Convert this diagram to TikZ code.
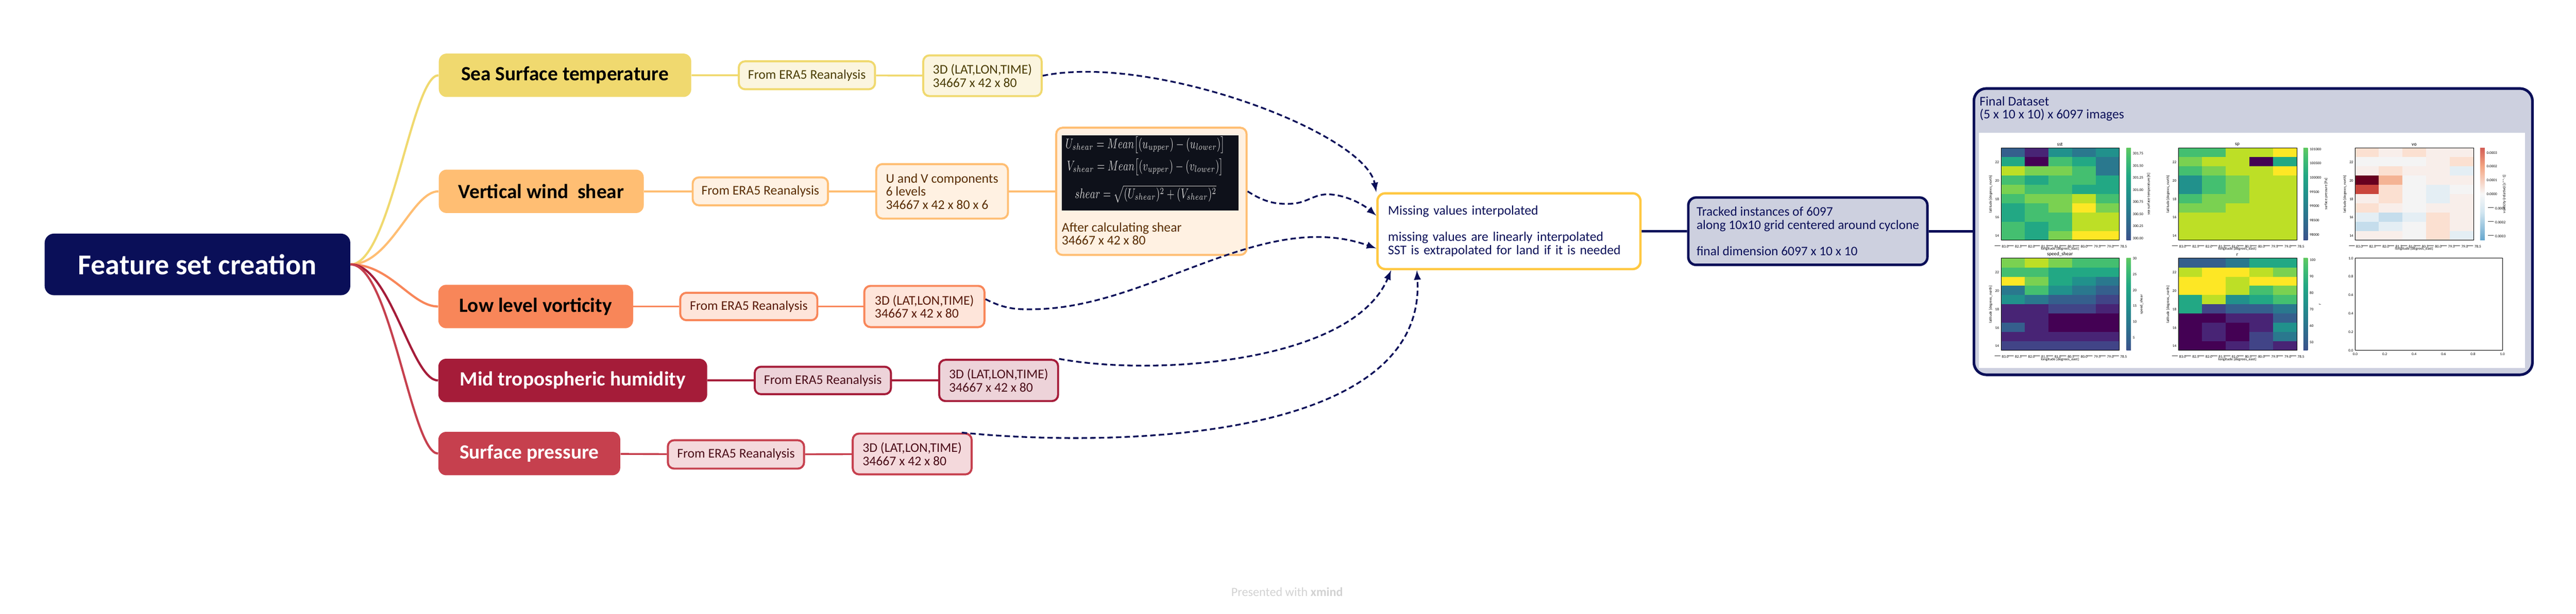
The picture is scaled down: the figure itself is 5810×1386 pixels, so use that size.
\documentclass[tikz,border=0pt]{standalone}
\usepackage{fontspec}
\setmainfont{Carlito}
\usepackage{amsmath}
\usepackage{graphicx}
\usetikzlibrary{calc}

\definecolor{navy}{HTML}{0A0F58}
\definecolor{sstc}{HTML}{F0D96F}
\definecolor{vwsc}{HTML}{FFBE73}
\definecolor{vorc}{HTML}{F88659}
\definecolor{humc}{HTML}{A51C39}
\definecolor{spc}{HTML}{C6404E}
\definecolor{sstl}{HTML}{FBF5DF}
\definecolor{vwsl}{HTML}{FFF1E2}
\definecolor{vorl}{HTML}{FEE5DA}
\definecolor{huml}{HTML}{EDD3D9}
\definecolor{spl}{HTML}{F4D9DC}
\definecolor{ssttx}{HTML}{4A3C00}
\definecolor{vwstx}{HTML}{5A2D00}
\definecolor{vortx}{HTML}{5A1A08}
\definecolor{humtx}{HTML}{4A0C18}
\definecolor{missc}{HTML}{FFC842}
\definecolor{trackf}{HTML}{CDD0DF}
\definecolor{eqbg}{HTML}{0E111A}
% viridis and RdBu_r steps for the plots
\definecolor{vir0}{HTML}{440154}
\definecolor{vir1}{HTML}{482475}
\definecolor{vir2}{HTML}{414487}
\definecolor{vir3}{HTML}{355F8D}
\definecolor{vir4}{HTML}{2A788E}
\definecolor{vir5}{HTML}{21918C}
\definecolor{vir6}{HTML}{22A884}
\definecolor{vir7}{HTML}{44BF70}
\definecolor{vir8}{HTML}{7AD151}
\definecolor{vir9}{HTML}{BDDF26}
\definecolor{vir10}{HTML}{FDE725}
\definecolor{rb0}{HTML}{67001F}
\definecolor{rb1}{HTML}{C9463D}
\definecolor{rb2}{HTML}{F4B394}
\definecolor{rb3}{HTML}{FBE0D1}
\definecolor{rb4}{HTML}{F8EEEA}
\definecolor{rb5}{HTML}{F4F4F4}
\definecolor{rb6}{HTML}{E4EEF4}
\definecolor{rb7}{HTML}{C5DDEC}
\pgfdeclareverticalshading{viridis}{100bp}{color(0bp)=(vir0); color(10bp)=(vir1);
  color(20bp)=(vir2); color(30bp)=(vir3); color(40bp)=(vir4); color(50bp)=(vir5);
  color(60bp)=(vir6); color(70bp)=(vir7); color(80bp)=(vir8); color(90bp)=(vir9);
  color(100bp)=(vir10)}
\definecolor{rbb0}{HTML}{053061}
\definecolor{rbb1}{HTML}{4393C3}
\definecolor{rbb2}{HTML}{D1E5F0}
\definecolor{rbb3}{HTML}{F7F7F7}
\definecolor{rbb4}{HTML}{F4A582}
\definecolor{rbb5}{HTML}{B2182B}
\pgfdeclareverticalshading{rdbu}{100bp}{color(0bp)=(rbb0); color(20bp)=(rbb1);
  color(40bp)=(rbb2); color(50bp)=(rbb3); color(65bp)=(rbb4); color(85bp)=(rbb5);
  color(100bp)=(rb0)}

\begin{document}
\begin{tikzpicture}[x=0.01cm, y=-0.01cm,
	topic/.style={rounded corners=5pt, minimum height=0.98cm, inner sep=0pt, anchor=west,
		font=\bfseries\fontsize{13}{14}\selectfont},
	sub/.style={draw, line width=1.3pt, rounded corners=4pt, inner sep=0pt, anchor=west,
		align=left, font=\fontsize{8.5}{8.4}\selectfont},
	branch/.style={line width=1.4pt},
	link/.style={line width=1.2pt},
	flow/.style={navy, line width=1.1pt, dash pattern=on 3.5pt off 2pt, -latex},
	eqtext/.style={text=gray!35, font=\fontsize{9}{10}\selectfont, inner sep=0pt},
	ticklab/.style={font=\fontsize{2.4}{2.6}\selectfont, inner sep=0.5pt},
]
	\useasboundingbox (0,0) rectangle (5810,1386);
	
	% mind map
	\node[fill=navy, text=white, rounded corners=6pt, minimum width=6.89cm, minimum height=1.39cm,
		inner sep=0pt, anchor=west, font=\bfseries\fontsize{18.5}{20}\selectfont] (root) at (100,597) {Feature set creation};
	\node[topic, fill=sstc, minimum width=5.69cm] (sst) at (989,170) {Sea Surface temperature};
	\node[topic, fill=vwsc, minimum width=4.62cm] (vws) at (989,432) {Vertical wind\ \ shear};
	\node[topic, fill=vorc, minimum width=4.39cm] (vor) at (988,692) {Low level vorticity};
	\node[topic, fill=humc, text=white, minimum width=6.06cm] (hum) at (988,859) {Mid tropospheric humidity};
	\node[topic, fill=spc, text=white, minimum width=4.10cm] (sp) at (988,1024) {Surface pressure};
	
	\node[sub, draw=sstc, fill=sstl, text=ssttx, minimum width=3.07cm, minimum height=0.63cm] (sstera) at (1664,170) {From ERA5 Reanalysis};
	\node[sub, draw=sstc, fill=sstl, text=ssttx, minimum width=2.67cm, minimum height=0.92cm] (sstdim) at (2080,171) {3D (LAT,LON,TIME)\\34667 x 42 x 80};
	\node[sub, draw=vwsc, fill=vwsl, text=vwstx, minimum width=3.05cm, minimum height=0.63cm] (vwsera) at (1560,432) {From ERA5 Reanalysis};
	\node[sub, draw=vwsc, fill=vwsl, text=vwstx, minimum width=2.97cm, minimum height=1.23cm] (uv) at (1974,432) {U and V components\\6 levels\\34667 x 42 x 80 x 6};
	\node[sub, draw=vwsc, fill=vwsl, minimum width=4.29cm, minimum height=2.87cm] (shear) at (2380,432) {};
	\node[sub, draw=vorc, fill=vorl, text=vortx, minimum width=3.09cm, minimum height=0.62cm] (vorera) at (1532,692) {From ERA5 Reanalysis};
	\node[sub, draw=vorc, fill=vorl, text=vortx, minimum width=2.71cm, minimum height=0.93cm] (vordim) at (1947,692) {3D (LAT,LON,TIME)\\34667 x 42 x 80};
	\node[sub, draw=humc, fill=huml, text=humtx, minimum width=3.07cm, minimum height=0.62cm] (humera) at (1700,859) {From ERA5 Reanalysis};
	\node[sub, draw=humc, fill=huml, text=humtx, minimum width=2.68cm, minimum height=0.93cm] (humdim) at (2116,859) {3D (LAT,LON,TIME)\\34667 x 42 x 80};
	\node[sub, draw=spc, fill=spl, text=humtx, minimum width=3.07cm, minimum height=0.64cm] (spera) at (1504,1026) {From ERA5 Reanalysis};
	\node[sub, draw=spc, fill=spl, text=humtx, minimum width=2.68cm, minimum height=0.92cm] (spdim) at (1921,1025) {3D (LAT,LON,TIME)\\34667 x 42 x 80};
	
	% shear formulas
	\node[fill=eqbg, anchor=north west, minimum width=3.99cm, minimum height=1.69cm, inner sep=0pt] (eqpanel) at (2394,305) {};
	\node[eqtext] (equ) at (2583,327) {\scalebox{0.7}[1]{$U_{shear} = Mean\big[(u_{upper}) - (u_{lower})\big]$}};
	\node[eqtext] (eqv) at (2583,377) {\scalebox{0.7}[1]{$V_{shear} = Mean\big[(v_{upper}) - (v_{lower})\big]$}};
	\node[eqtext] (eqs) at (2584,438) {\scalebox{0.7}[1]{$shear = \sqrt{(U_{shear})^2 + (V_{shear})^2}$}};
	\node[anchor=north west, align=left, inner sep=0pt, text=vwstx, font=\fontsize{8.5}{8.4}\selectfont] (shearnote) at (2394,502) {After calculating shear\\34667 x 42 x 80};
	
	\node[draw=missc, fill=white, line width=1.5pt, rounded corners=5pt, anchor=west, minimum width=5.93cm,
		minimum height=1.71cm, text width=5.45cm, inner xsep=0.24cm, text=navy, align=left,
		font=\fontsize{8.5}{8.4}\selectfont] (miss) at (3104,522)
		{Missing values interpolated\\[8.4pt]missing values are linearly interpolated\\SST is extrapolated for land if it is needed};
	\node[draw=navy, fill=trackf, line width=1.6pt, rounded corners=5pt, anchor=west, minimum width=5.39cm,
		minimum height=1.52cm, inner sep=0pt, text=navy, align=left,
		font=\fontsize{8.4}{8.4}\selectfont] (tracked) at (3805,522)
		{Tracked instances of 6097\\along 10x10 grid centered around cyclone\\[8.4pt]final dimension 6097 x 10 x 10};
	\node[draw=navy, fill=trackf, line width=1.7pt, rounded corners=8pt, anchor=west, minimum width=12.59cm,
		minimum height=6.46cm, inner sep=0pt] (final) at (4449,523) {};
	\node[anchor=north west, align=left, inner sep=0pt, text=navy, font=\fontsize{8.5}{8.4}\selectfont] (finaltitle) at (4464,217)
		{Final Dataset\\(5 x 10 x 10) x 6097 images};
	\node[fill=white, anchor=north west, minimum width=12.31cm, minimum height=5.31cm, inner sep=0pt] (plots) at (4462,299) {};
	
	% branches
	\draw[branch, sstc] (root.east) .. controls +(90,0) and +(-60,0) .. (sst.west);
	\draw[branch, vwsc] (root.east) .. controls +(90,0) and +(-60,0) .. (vws.west);
	\draw[branch, vorc] (root.east) .. controls +(90,0) and +(-60,0) .. (vor.west);
	\draw[branch, humc] (root.east) .. controls +(90,0) and +(-60,0) .. (hum.west);
	\draw[branch, spc] (root.east) .. controls +(90,0) and +(-60,0) .. (sp.west);
	\draw[link, sstc] (sst) -- (sstera) -- (sstdim);
	\draw[link, vwsc] (vws) -- (vwsera) -- (uv) -- (shear);
	\draw[link, vorc] (vor) -- (vorera) -- (vordim);
	\draw[link, humc] (hum) -- (humera) -- (humdim);
	\draw[link, spc] (sp) -- (spera) -- (spdim);
	\draw[navy, line width=1.6pt] (miss) -- (tracked) -- (final);
	
	% dashed relations
	\draw[flow] (sstdim.east) .. controls (2600,120) and (3080,300) .. (miss.north west);
	\draw[flow] (shear.east) .. controls (2850,455) and (2875,462) .. (2913,460)
		.. controls (2950,458) and (2965,436) .. (3001,439)
		.. controls (3040,442) and (3075,462) .. ($(miss.north west)!0.3!(miss.south west)$);
	\draw[flow] ($(vordim.north east)!0.33!(vordim.south east)$) .. controls (2270,700) and (2300,699) .. (2341,698)
		.. controls (2600,690) and (2850,470) .. ($(miss.north west)!0.72!(miss.south west)$);
	\draw[flow] (humdim.north east) .. controls (2600,850) and (3050,820) .. ($(miss.south west)!0.056!(miss.south east)$);
	\draw[flow] ($(spdim.north west)!0.91!(spdim.north east)$) .. controls (2500,1010) and (3220,1000) .. ($(miss.south west)!0.153!(miss.south east)$);
	
	% heat maps in the final dataset
	\begin{scope}[shift={(4513,334)}]
		\foreach \c [count=\i from 0] in {3,1,5,4,5, 6,0,7,6,4, 9,8,8,7,4, 7,6,7,7,6, 8,7,7,6,6,
			7,8,8,9,7, 6,7,8,10,8, 6,7,7,9,9, 7,6,7,9,9, 7,6,8,10,10}{
			\pgfmathtruncatemacro\col{mod(\i,5)}
			\pgfmathtruncatemacro\row{\i/5}
			\fill[vir\c] (\col*53.4,\row*20.8) rectangle ++(53.6,21);
		}
	\end{scope}
	\begin{scope}[shift={(4913,334)}]
		\foreach \c [count=\i from 0] in {7,7,9,9,10, 8,9,9,0,6, 7,8,9,9,10, 5,7,8,9,9, 5,7,8,9,9,
			7,8,8,9,9, 8,8,9,9,9, 9,9,9,9,9, 9,9,9,9,9, 9,9,9,9,9}{
			\pgfmathtruncatemacro\col{mod(\i,5)}
			\pgfmathtruncatemacro\row{\i/5}
			\fill[vir\c] (\col*53.4,\row*20.8) rectangle ++(53.6,21);
		}
	\end{scope}
	\begin{scope}[shift={(5312,334)}]
		\foreach \c [count=\i from 0] in {3,4,3,4,4, 5,5,5,4,3, 4,3,4,4,6, 0,2,5,4,4, 1,3,5,6,5,
			4,3,5,6,4, 3,4,5,4,4, 6,7,6,3,4, 7,6,5,3,4, 4,4,5,3,6}{
			\pgfmathtruncatemacro\col{mod(\i,5)}
			\pgfmathtruncatemacro\row{\i/5}
			\fill[rb\c] (\col*53.4,\row*20.8) rectangle ++(53.6,21);
		}
	\end{scope}
	\begin{scope}[shift={(4513,583)}]
		\foreach \c [count=\i from 0] in {8,9,8,7,7, 7,7,6,6,6, 10,8,6,5,4, 4,7,5,4,3, 5,4,3,3,2,
			1,1,2,2,1, 1,1,0,0,0, 3,1,0,0,0, 1,1,1,1,1, 2,2,2,2,2}{
			\pgfmathtruncatemacro\col{mod(\i,5)}
			\pgfmathtruncatemacro\row{\i/5}
			\fill[vir\c] (\col*53.4,\row*20.8) rectangle ++(53.6,21);
		}
	\end{scope}
	\begin{scope}[shift={(4913,583)}]
		\foreach \c [count=\i from 0] in {3,3,4,6,6, 9,10,10,9,8, 10,10,9,10,10, 10,10,9,7,8, 6,9,5,6,7,
			6,2,3,3,4, 0,0,1,1,3, 0,1,0,1,5, 0,1,0,2,4, 0,0,1,2,1}{
			\pgfmathtruncatemacro\col{mod(\i,5)}
			\pgfmathtruncatemacro\row{\i/5}
			\fill[vir\c] (\col*53.4,\row*20.8) rectangle ++(53.6,21);
		}
	\end{scope}
	
	% axes, ticks and labels
	\foreach \px/\py/\ttl in {4513/334/sst, 4913/334/sp, 5312/334/vo, 4513/583/speed\_shear, 4913/583/r}{
		\begin{scope}[shift={(\px,\py)}]
			\draw[line width=0.2pt] (0,0) rectangle (267,208);
			\node[ticklab, font=\fontsize{3.2}{3.4}\selectfont, anchor=south] at (133,-2) {\ttl};
			\foreach \lab [count=\k from 0] in {22,20,18,16,14}
				\node[ticklab, anchor=east] at (-2,32+\k*41.6) {\lab};
			\foreach \lab [count=\k from 0] in {83.0,82.5,82.0,81.5,81.0,80.5,80.0,79.5,79.0,78.5}
				\node[ticklab, anchor=north] at (\k*29.67,211) {$-$\lab};
			\node[ticklab, anchor=north] at (133,222) {longitude [degrees\_east]};
			\node[ticklab, rotate=90, anchor=south] at (-17,104) {latitude [degrees\_north]};
		\end{scope}
	}
	\begin{scope}[shift={(5312,583)}]
		\draw[line width=0.2pt] (0,0) rectangle (332,208);
		\foreach \lab [count=\k from 0] in {1.0,0.8,0.6,0.4,0.2,0.0}{
			\node[ticklab, anchor=east] at (-2,\k*41.6) {\lab};
		}
		\foreach \lab [count=\k from 0] in {0.0,0.2,0.4,0.6,0.8,1.0}{
			\node[ticklab, anchor=north] at (\k*66.4,211) {\lab};
		}
	\end{scope}
	
	% colour bars
	\shade[shading=viridis] (4796,334) rectangle (4806,542);
	\shade[shading=viridis] (5195,334) rectangle (5205,542);
	\shade[shading=rdbu] (5594,334) rectangle (5604,542);
	\shade[shading=viridis] (4796,583) rectangle (4806,791);
	\shade[shading=viridis] (5195,583) rectangle (5205,791);
	\foreach \lab [count=\k from 0] in {301.75,301.50,301.25,301.00,300.75,300.50,300.25,300.00}
		\node[ticklab, anchor=west] at (4808,347+\k*27.3) {\lab};
	\foreach \lab [count=\k from 0] in {101000,100500,100000,99500,99000,98500,98000}
		\node[ticklab, anchor=west] at (5207,337+\k*32.1) {\lab};
	\foreach \lab [count=\k from 0] in {0.0003,0.0002,0.0001,0.0000,$-$0.0001,$-$0.0002,$-$0.0003}
		\node[ticklab, anchor=west] at (5606,345+\k*31.1) {\lab};
	\foreach \lab [count=\k from 0] in {30,25,20,15,10,5}
		\node[ticklab, anchor=west] at (4808,584+\k*35.6) {\lab};
	\foreach \lab [count=\k from 0] in {100,90,80,70,60,50}
		\node[ticklab, anchor=west] at (5207,587+\k*37.3) {\lab};
	\node[ticklab, rotate=90, anchor=north] at (4840,438) {sea surface temperature [K]};
	\node[ticklab, rotate=90, anchor=north] at (5240,438) {surface pressure [Pa]};
	\node[ticklab, rotate=90, anchor=north] at (5642,438) {vorticity (relative) [s**-1]};
	\node[ticklab, rotate=90, anchor=north] at (4824,687) {speed\_shear};
	\node[ticklab, rotate=90, anchor=north] at (5228,687) {r};
	
	\node[text=gray!35, font=\fontsize{8}{9}\selectfont] (credit) at (2903,1336) {Presented with \textbf{xmind}};
	
\end{tikzpicture}
\end{document}
